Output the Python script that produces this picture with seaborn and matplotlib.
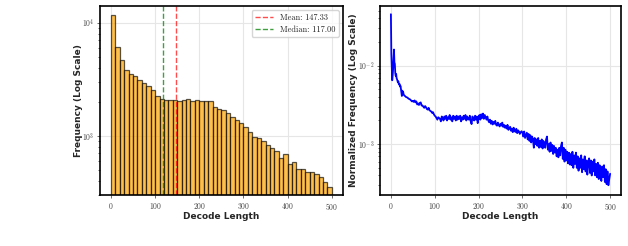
import numpy as np
import pandas as pd
import matplotlib
matplotlib.use('Agg')
import matplotlib.pyplot as plt
import seaborn as sns

# ==========================================
# Data
# ==========================================
bin_edges = list(range(0, 510, 10))
bin_counts = [11700, 6120, 4660, 3800, 3530, 3360, 3140, 2950, 2780, 2560,
              2230, 2120, 2070, 2060, 2070, 2020, 2070, 2100, 2030, 2060,
              2020, 2020, 2040, 1800, 1720, 1700, 1580, 1460, 1390, 1300,
              1190, 1090, 986, 953, 903, 832, 778, 736, 643, 688,
              561, 584, 509, 509, 476, 476, 457, 435, 393, 355]
mean_len = 147.33
median_len = 117.00

# decode length -> normalized frequency (units of 1e-3)
lengths_head = list(range(0, 30))
freq_head = [45.0, 14.0, 9.5, 6.5, 7.5, 9.0, 12.0, 16.0, 11.0, 10.5,
             8.0, 7.4, 7.8, 6.9, 6.7, 6.4, 6.1, 6.3, 5.9, 5.7,
             5.8, 5.4, 5.5, 5.0, 4.6, 4.1, 4.8, 4.5, 4.6, 4.3]
lengths_mid = list(range(30, 300, 2))
freq_mid = [4.2, 4.1, 4.0, 3.95, 3.9, 3.8, 3.75, 3.7, 3.6, 3.5,
            3.55, 3.45, 3.6, 3.4, 3.5, 3.2, 3.3, 3.15, 3.35, 3.4,
            3.1, 3.1, 3.0, 2.9, 3.05, 2.95, 2.8, 2.75, 2.9, 2.7,
            2.65, 2.6, 2.5, 2.55, 2.4, 2.3, 2.25, 2.15, 2.05, 2.2,
            2.15, 2.1, 1.95, 2.25, 2.1, 2.0, 2.25, 2.1, 2.3, 2.0,
            2.2, 2.1, 2.35, 2.05, 2.2, 1.95, 2.3, 2.1, 2.25, 2.0,
            2.3, 2.05, 2.25, 2.1, 2.3, 1.95, 2.2, 2.05, 2.3, 2.1,
            2.35, 2.0, 2.25, 2.1, 2.05, 2.3, 1.95, 1.8, 2.25, 2.1,
            2.0, 2.3, 2.05, 2.25, 1.85, 2.2, 2.35, 2.05, 2.4, 2.15,
            2.45, 2.1, 2.35, 2.2, 2.05, 2.25, 2.0, 1.9, 2.05, 1.82,
            1.98, 1.78, 1.92, 1.82, 1.98, 1.76, 1.72, 1.88, 1.76, 1.68,
            1.82, 1.72, 1.88, 1.66, 1.76, 1.62, 1.72, 1.58, 1.76, 1.52,
            1.62, 1.66, 1.48, 1.58, 1.42, 1.62, 1.48, 1.43, 1.57, 1.38,
            1.5, 1.45, 1.35, 1.42, 1.46]
lengths_end = list(range(300, 501, 2))
freq_end = [1.4, 1.25, 1.45, 1.2, 1.3, 1.4, 1.15, 1.35, 1.1, 1.3,
            1.05, 1.25, 1.15, 0.9, 1.2, 1.0, 1.15, 0.95, 1.2, 0.9,
            1.1, 0.92, 1.15, 0.88, 1.1, 0.95, 0.9, 1.15, 1.25, 0.85,
            1.0, 0.8, 1.05, 0.82, 0.98, 0.75, 0.95, 0.78, 0.9, 0.7,
            0.85, 0.68, 0.9, 0.72, 0.95, 1.05, 0.65, 0.9, 0.6, 0.85,
            0.62, 0.8, 0.57, 0.78, 0.55, 0.75, 0.54, 0.8, 0.5, 0.72,
            0.56, 0.78, 0.5, 0.7, 0.46, 0.66, 0.5, 0.72, 0.44, 0.64,
            0.48, 0.7, 0.45, 0.62, 0.41, 0.6, 0.66, 0.43, 0.62, 0.4,
            0.6, 0.45, 0.64, 0.4, 0.56, 0.38, 0.58, 0.36, 0.54, 0.4,
            0.34, 0.52, 0.38, 0.54, 0.33, 0.48, 0.31, 0.45, 0.3, 0.36,
            0.42]

hist_df = pd.DataFrame({'length': [e + 5 for e in bin_edges[:-1]],
                        'count': bin_counts})
line_df = pd.DataFrame({'length': lengths_head + lengths_mid + lengths_end,
                        'freq': np.array(freq_head + freq_mid + freq_end) * 1e-3})

# ==========================================
# Style
# ==========================================
sns.set_style('whitegrid')
plt.rcParams['font.family'] = ['serif']
plt.rcParams['font.serif'] = ['cmr10', 'DejaVu Serif']
plt.rcParams['mathtext.fontset'] = 'cm'
plt.rcParams['axes.formatter.use_mathtext'] = True
plt.rcParams['axes.unicode_minus'] = False

label_kw = dict(fontfamily='DejaVu Sans', fontweight='bold', fontsize=6.5)

fig = plt.figure(figsize=(6.28, 2.46), dpi=100)
ax1 = fig.add_axes([0.159, 0.207, 0.387, 0.768])
ax2 = fig.add_axes([0.605, 0.207, 0.384, 0.768])

# ==========================================
# Left: histogram
# ==========================================
sns.histplot(data=hist_df, x='length', weights='count', bins=bin_edges,
             color='orange', alpha=0.7, edgecolor=(0, 0, 0, 0.65),
             linewidth=0.9, ax=ax1)
ax1.set_yscale('log')
ax1.axvline(mean_len, color='red', linestyle='--', linewidth=1, alpha=0.7,
            label=f'Mean: {mean_len:.2f}')
ax1.axvline(median_len, color='green', linestyle='--', linewidth=1, alpha=0.75,
            label=f'Median: {median_len:.2f}')
ax1.set_ylim(300, 14000)
ax1.set_xlim(-25, 525)
ax1.set_xlabel('Decode Length', labelpad=0, **label_kw)
ax1.set_ylabel('Frequency (Log Scale)', labelpad=-1, **label_kw)
ax1.legend(loc='upper right', fontsize=6, frameon=True, handlelength=2.2,
           borderpad=0.4, labelspacing=0.4)

# ==========================================
# Right: normalized frequency line
# ==========================================
sns.lineplot(data=line_df, x='length', y='freq', color='blue', linewidth=1.3,
             ax=ax2)
ax2.set_yscale('log')
ax2.set_ylim(2.25e-4, 0.057)
ax2.set_xlim(-25, 525)
ax2.set_xlabel('Decode Length', labelpad=0, **label_kw)
ax2.set_ylabel('Normalized Frequency (Log Scale)', labelpad=0, **label_kw)

for ax in (ax1, ax2):
    ax.set_xticks([0, 100, 200, 300, 400, 500])
    ax.grid(True, color='#e6e6e6', linewidth=0.8)
    ax.tick_params(axis='both', labelsize=5.5, pad=2, length=2, width=0.6,
                   colors='#555555', labelcolor='#444444')
    ax.tick_params(axis='y', which='minor', length=1.5, width=0.5, left=True)
    ax.tick_params(left=True, bottom=True)
    for sp in ax.spines.values():
        sp.set_edgecolor('black')
        sp.set_linewidth(1.2)

plt.savefig('out.png', dpi=100)
plt.close()
